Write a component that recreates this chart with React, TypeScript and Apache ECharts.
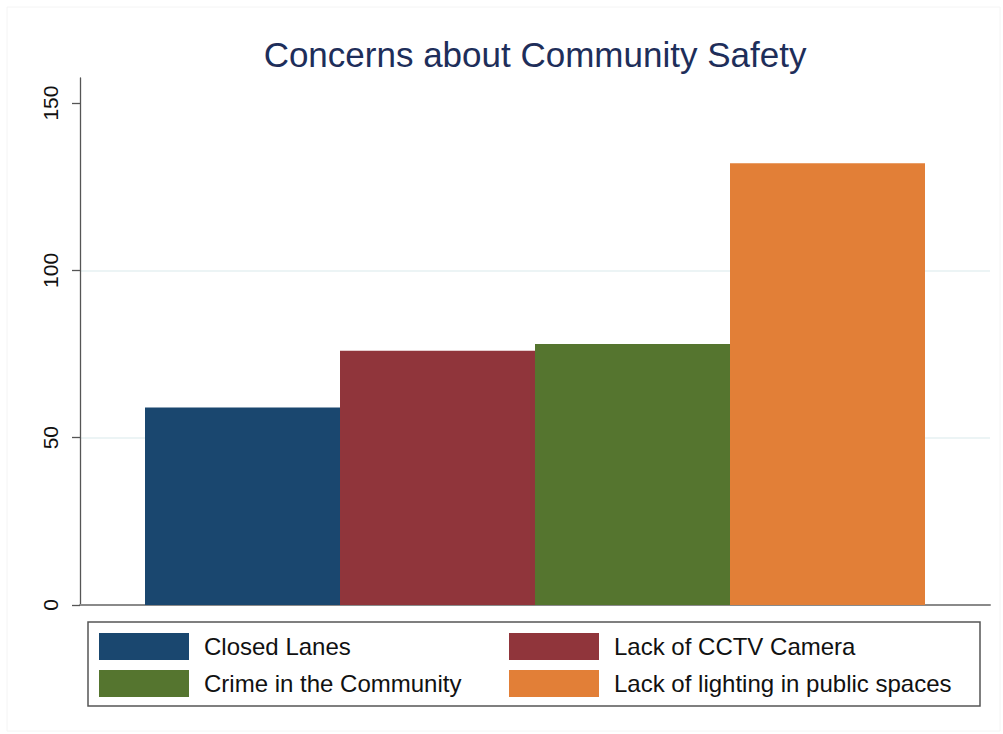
import React, { useEffect, useRef } from "react";
import * as echarts from "echarts";

const titleText = "Concerns about Community Safety";
const categories = [
  "Closed Lanes",
  "Lack of CCTV Camera",
  "Crime in the Community",
  "Lack of lighting in public spaces",
];
const values = [59, 76, 78, 132];
const colors = ["#1a476f", "#90353b", "#55752f", "#e27f37"];
const yTicks = [0, 50, 100, 150];
const leftLegend = [categories[0], categories[2]];
const rightLegend = [categories[1], categories[3]];

export default function App() {
  const ref = useRef<HTMLDivElement>(null);
  useEffect(() => {
    if (!ref.current) return;
    const chart = echarts.init(ref.current, null, { renderer: "svg" });
    const font = "'Liberation Sans', Arial, Helvetica, sans-serif";
    const legendCommon = {
      orient: "vertical",
      padding: 0,
      itemWidth: 90,
      itemHeight: 27,
      itemGap: 10,
      icon: "rect",
      selectedMode: false,
      textStyle: { fontSize: 24, color: "#111", fontFamily: font, padding: [0, 0, 0, 10] },
    };
    chart.setOption({
      animation: false,
      backgroundColor: "#ffffff",
      title: {
        text: titleText,
        left: 530,
        top: 32,
        textAlign: "center",
        textStyle: { fontSize: 35, fontWeight: "normal", color: "#1e2e5a", fontFamily: font },
      },
      grid: { left: 80, right: 13, top: 78, bottom: 129, containLabel: false },
      legend: [
        { ...legendCommon, data: leftLegend, left: 99, top: 633 },
        { ...legendCommon, data: rightLegend, left: 509, top: 633 },
      ],
      xAxis: {
        type: "category",
        data: [""],
        axisLine: { show: true, lineStyle: { color: "#8a8a8a", width: 2 } },
        axisTick: { show: false },
        axisLabel: { show: false },
        splitLine: { show: false },
      },
      yAxis: {
        type: "value",
        min: 0,
        max: 157.5,
        interval: 50,
        axisLine: { show: true, lineStyle: { color: "#555", width: 1.3 } },
        axisTick: { show: true, length: 8, customValues: yTicks, lineStyle: { color: "#555", width: 1.3 } },
        axisLabel: {
          rotate: 90,
          margin: 19,
          fontSize: 21,
          color: "#111",
          fontFamily: font,
          customValues: yTicks,
        },
        splitLine: { show: true, showMaxLine: false, lineStyle: { color: "#e6f0f2", width: 1.5 } },
      },
      series: categories.map((name, i) => ({
        name,
        type: "bar",
        data: [values[i]],
        barWidth: 195,
        barGap: "0%",
        itemStyle: { color: colors[i] },
      })),
      graphic: [
        {
          type: "rect",
          shape: { x: 7, y: 7, width: 993, height: 724 },
          style: { fill: "none", stroke: "#f4f4f4", lineWidth: 1 },
          silent: true,
        },
        {
          type: "rect",
          shape: { x: 88, y: 622, width: 892, height: 84 },
          style: { fill: "none", stroke: "#555", lineWidth: 1.5 },
          silent: true,
        },
      ],
    });
    return () => chart.dispose();
  }, []);
  return (
    <div
      ref={ref}
      style={{ position: "fixed", left: 0, top: 0, width: 1003, height: 734 }}
    />
  );
}
